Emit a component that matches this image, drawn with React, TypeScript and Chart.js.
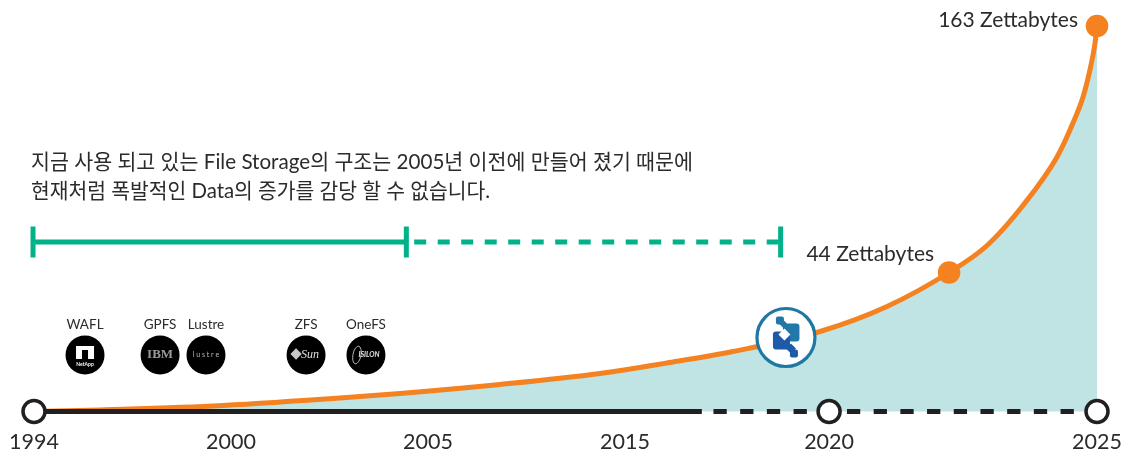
import React, { useEffect, useRef } from "react";
import { Chart, registerables } from "chart.js";

Chart.register(...registerables);

// Timeline: one unit is one step between the evenly spaced year labels
const tickYears = ["1994", "2000", "2005", "2015", "2020", "2025"];
const tickPositions = [0, 1, 2, 3, 4.036, 5.396];

// Data growth curve (position on the timeline, height of the drawn curve)
const curvePositions = [0, 0.335, 0.909, 1.518, 1.858, 2.365, 2.873, 3.213, 3.548, 3.99, 4.33, 4.645, 4.838, 5.02, 5.193, 5.274, 5.325, 5.36, 5.386, 5.396];
const curveHeights = [0, 1.5, 5.5, 13, 18, 27, 38, 48.5, 60, 80, 105, 139, 166, 206, 254.5, 288.5, 314.5, 341.5, 368.5, 385.5];

const milestonePositions = [4.645, 5.396];
const milestoneHeights = [139, 385.5];
const milestoneLabels = ["44 Zettabytes", "163 Zettabytes"];

const eraPositions = [-0.005, 1.89, 3.79];
const eraHeight = 169.5;
const axisSolidEnd = 3.39;
const axisDashStart = 3.449;
const axisNodes = [0, 4.036, 5.396];

const systems = ["WAFL", "GPFS", "Lustre", "ZFS", "OneFS"];
const systemPositions = [0.259, 0.64, 0.873, 1.381, 1.685];
const systemHeight = 56.5;
const systemLogos = ["NetApp", "IBM", "lustre", "Sun", "ISILON"];

const iconPosition = 3.817;
const iconHeight = 74;

const noteLines = [
  "지금 사용 되고 있는 File Storage의 구조는 2005년 이전에 만들어 졌기 때문에",
  "현재처럼 폭발적인 Data의 증가를 감당 할 수 없습니다.",
];

const LATIN = "Lato, 'Noto Sans', sans-serif";
const KR = "Lato, 'Noto Sans CJK KR', sans-serif";
const INK = "#2b2b2d";
const ORANGE = "#f58220";
const GREEN = "#01b188";

const annotate = {
  id: "annotate",
  afterDatasetsDraw(chart: any) {
    const { ctx, scales } = chart;
    const X = (v: number) => scales.x.getPixelForValue(v);
    const Y = (v: number) => scales.y.getPixelForValue(v);
    ctx.save();
    ctx.textBaseline = "middle";

    // note
    ctx.fillStyle = INK;
    ctx.textAlign = "left";
    ctx.font = `21px ${KR}`;
    ctx.fillText(noteLines[0], 31, 162, 662);
    ctx.fillText(noteLines[1], 31, 191, 459);

    // milestones
    ctx.textAlign = "right";
    ctx.font = `21px ${LATIN}`;
    ctx.fillText(milestoneLabels[0], X(milestonePositions[0]) - 15, Y(milestoneHeights[0]) - 18);
    ctx.fillText(milestoneLabels[1], X(milestonePositions[1]) - 19, Y(milestoneHeights[1]) - 6);

    // system labels and logo marks
    systems.forEach((name, i) => {
      const x = X(systemPositions[i]);
      const y = Y(systemHeight);
      ctx.textAlign = "center";
      ctx.fillStyle = INK;
      ctx.font = `13.5px ${LATIN}`;
      ctx.fillText(name, x, y - 30.5);
      const logo = systemLogos[i];
      ctx.fillStyle = "#ffffff";
      if (logo === "NetApp") {
        ctx.fillRect(x - 9, y - 9, 18, 13);
        ctx.fillStyle = "#000000";
        ctx.fillRect(x - 3, y - 5, 6, 9);
        ctx.fillStyle = "#ffffff";
        ctx.font = `bold 5px ${LATIN}`;
        ctx.fillText(logo, x, y + 9);
      } else if (logo === "IBM") {
        ctx.fillStyle = "#9a9a9a";
        ctx.font = "bold 13px 'Liberation Serif', serif";
        ctx.fillText(logo, x, y);
      } else if (logo === "lustre") {
        ctx.fillStyle = "#bdbdbd";
        ctx.font = `7px ${LATIN}`;
        ctx.fillText("l u s t r e", x, y);
      } else if (logo === "Sun") {
        ctx.save();
        ctx.translate(x - 10, y - 1);
        ctx.rotate(Math.PI / 4);
        ctx.fillStyle = "#c8c8c8";
        ctx.fillRect(-4, -4, 8, 8);
        ctx.restore();
        ctx.fillStyle = "#e0e0e0";
        ctx.font = "italic 12px 'Liberation Serif', serif";
        ctx.fillText(logo, x + 4, y);
      } else {
        ctx.strokeStyle = "#e0e0e0";
        ctx.lineWidth = 0.8;
        ctx.beginPath();
        ctx.ellipse(x - 9, y, 4, 9, 0.2, 0, Math.PI * 2);
        ctx.stroke();
        ctx.fillStyle = "#e8e8e8";
        ctx.font = `italic bold 7px ${LATIN}`;
        ctx.fillText(logo, x + 3, y);
      }
    });

    // emblem sitting on the curve
    const cx = X(iconPosition);
    const cy = Y(iconHeight);
    ctx.beginPath();
    ctx.arc(cx, cy, 29, 0, Math.PI * 2);
    ctx.fillStyle = "#ffffff";
    ctx.fill();
    ctx.lineWidth = 3.2;
    ctx.strokeStyle = "#1f78a4";
    ctx.stroke();
    const block = (x: number, y: number, w: number, h: number, c: string, r = 2) => {
      ctx.beginPath();
      ctx.roundRect(cx + x, cy + y, w, h, r);
      ctx.fillStyle = c;
      ctx.fill();
    };
    const diamond = (x: number, y: number, r: number, c: string) => {
      ctx.beginPath();
      ctx.moveTo(cx + x, cy + y - r);
      ctx.lineTo(cx + x + r, cy + y);
      ctx.lineTo(cx + x, cy + y + r);
      ctx.lineTo(cx + x - r, cy + y);
      ctx.closePath();
      ctx.fillStyle = c;
      ctx.fill();
    };
    block(-10, -21, 8, 8, "#2278a8");
    diamond(-3, -14, 4, "#2278a8");
    block(-3, -14, 16.5, 18, "#2278a8", 3);
    block(-13, -6, 17, 18, "#1d5aa8", 3);
    diamond(5, 11, 5, "#1d5aa8");
    block(4, 12, 8, 8, "#1d5aa8");
    diamond(-1.5, -3, 6, "#ffffff");
    ctx.restore();
  },
};

export default function App() {
  const ref = useRef<HTMLCanvasElement>(null);
  useEffect(() => {
    const chart = new Chart(ref.current!, {
      type: "line",
      data: {
        datasets: [
          {
            label: "Data growth",
            data: curvePositions.map((x, i) => ({ x, y: curveHeights[i] })),
            borderColor: ORANGE,
            borderWidth: 5,
            backgroundColor: "#bfe4e3",
            fill: "origin",
            cubicInterpolationMode: "monotone",
            pointRadius: 0,
            order: 6,
          },
          {
            label: "Axis solid",
            data: [{ x: 0, y: 0 }, { x: axisSolidEnd, y: 0 }],
            borderColor: "#231f20",
            borderWidth: 5,
            pointRadius: 0,
            order: 5,
          },
          {
            label: "Axis dashed",
            data: [{ x: axisDashStart, y: 0 }, { x: axisNodes[2], y: 0 }],
            borderColor: "#231f20",
            borderWidth: 5,
            borderDash: [13.3, 13.4],
            pointRadius: 0,
            order: 5,
          },
          {
            label: "Era solid",
            data: [{ x: eraPositions[0], y: eraHeight }, { x: eraPositions[1], y: eraHeight }],
            borderColor: GREEN,
            borderWidth: 5,
            pointStyle: "line",
            pointRotation: 90,
            pointRadius: 15.5,
            pointBorderColor: GREEN,
            pointBorderWidth: 5,
            order: 4,
          },
          {
            label: "Era dashed",
            data: [{ x: eraPositions[1] + 0.04, y: eraHeight }, { x: eraPositions[2], y: eraHeight }],
            borderColor: GREEN,
            borderWidth: 5,
            borderDash: [12, 11.5],
            pointRadius: 0,
            order: 4,
          },
          {
            label: "Era end",
            data: [{ x: eraPositions[2], y: eraHeight }],
            showLine: false,
            pointStyle: "line",
            pointRotation: 90,
            pointRadius: 15.5,
            pointBorderColor: GREEN,
            pointBorderWidth: 5,
            order: 4,
          },
          {
            label: "Axis nodes",
            data: axisNodes.map((x) => ({ x, y: 0 })),
            showLine: false,
            pointRadius: 11,
            pointBackgroundColor: "#ffffff",
            pointBorderColor: "#231f20",
            pointBorderWidth: 3.5,
            order: 2,
          },
          {
            label: "Milestones",
            data: milestonePositions.map((x, i) => ({ x, y: milestoneHeights[i] })),
            showLine: false,
            pointRadius: 11.3,
            pointBorderWidth: 0,
            pointBackgroundColor: ORANGE,
            order: 2,
          },
          {
            label: "File systems",
            data: systemPositions.map((x) => ({ x, y: systemHeight })),
            showLine: false,
            pointRadius: 19.5,
            pointBorderWidth: 0,
            pointBackgroundColor: "#000000",
            order: 2,
          },
        ],
      } as any,
      options: {
        responsive: false,
        animation: false,
        clip: false,
        layout: { padding: 0, autoPadding: false },
        plugins: { legend: { display: false }, tooltip: { enabled: false } },
        scales: {
          x: {
            type: "linear",
            min: -34 / 197,
            max: 1090 / 197,
            grid: { display: false },
            border: { display: false },
            afterBuildTicks: (s: any) => {
              s.ticks = tickPositions.map((value) => ({ value }));
            },
            afterFit: (s: any) => {
              s.height = 30;
            },
            ticks: {
              autoSkip: false,
              maxRotation: 0,
              padding: 0,
              color: INK,
              font: { family: LATIN, size: 21.5 },
              callback: (v: any) => tickYears[tickPositions.indexOf(Number(v))] ?? "",
            },
          },
          y: { display: false, min: -9.5, max: 411.5 },
        },
      } as any,
      plugins: [annotate],
    });
    return () => chart.destroy();
  }, []);
  return (
    <canvas
      ref={ref}
      width={1124}
      height={451}
      style={{ position: "absolute", left: 0, top: 0, display: "block", background: "#fff" }}
    />
  );
}
